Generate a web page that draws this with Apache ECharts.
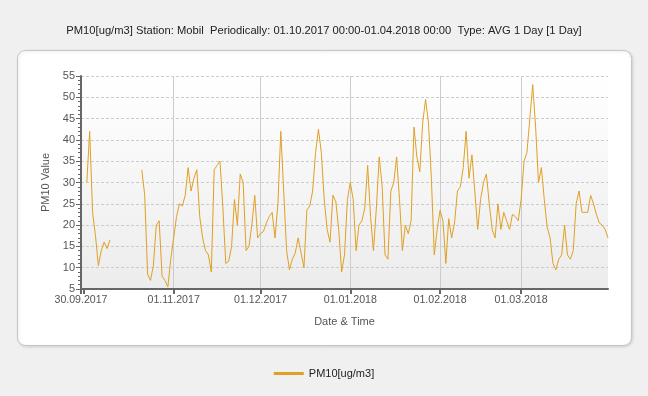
<!DOCTYPE html>
<html>
<head>
<meta charset="utf-8">
<script src="https://cdn.jsdelivr.net/npm/echarts@6/dist/echarts.min.js"></script>
<style>
html,body{margin:0;padding:0;background:#f0f0f0;}
#chart{width:648px;height:396px;}
</style>
</head>
<body>
<div id="chart"></div>
<script>
// Date range of the category axis (one category per day)
const startDate = [2017, 9, 30];   // 30.09.2017
const dayCount = 183;              // 30.09.2017 .. 31.03.2018

// Daily PM10 averages (index 0 = 30.09.2017), null = no data
const pm10Values = [
  null, null, 30, 42, 23, 17.5, 10.5, 14, 16, 14.5,
  16.5, null, null, null, null, null, null, null, null, null,
  null, 33, 27, 8.5, 7, 10.5, 20, 21, 8, 7,
  5.5, 12, 17, 22, 25, 24.5, 27, 33.5, 28, 31,
  33, 22, 17, 14, 13, 9, 33, 34, 35, 24,
  11, 11.5, 15, 26, 20, 32, 30, 14, 15, 20,
  27, 17, 18, 18.5, 20.5, 22, 23, 17, 25, 42,
  28, 14, 9.5, 12, 13.5, 17, 13.5, 10, 23.5, 24.5,
  28, 37, 42.5, 37, 26, 19, 16, 27, 25.5, 19,
  9, 13, 26, 30, 26, 14, 20, 21, 24, 34,
  22, 14, 24, 36, 29, 13, 12, 28, 30, 36,
  26, 14, 20, 18, 21, 43, 36, 32.5, 44, 49.5,
  44, 31, 13, 19, 23.5, 21, 11, 21.5, 17, 20.5,
  28, 29, 33.5, 42, 31, 36.5, 28, 19, 26, 30,
  32, 25, 19, 17, 25, 19, 23, 21, 19, 22.5,
  22, 21, 26, 35, 37, 45, 53, 43, 30, 33.5,
  26, 19.5, 17, 11, 9.5, 12, 13, 20, 13, 12,
  14, 25, 28, 23, 23, 23, 27, 25, 22.5, 20.5,
  20, 19, 17
];

const seriesName = 'PM10[ug/m3]';
const titleText = 'PM10[ug/m3] Station: Mobil  Periodically: 01.10.2017 00:00-01.04.2018 00:00  Type: AVG 1 Day [1 Day]';
const yTicks = {min: 5, max: 55, interval: 5};

function pad(n){ return (n < 10 ? '0' : '') + n; }
const categories = [];
for (let i = 0; i < dayCount; i++) {
  const d = new Date(startDate[0], startDate[1] - 1, startDate[2] + i);
  categories.push(pad(d.getDate()) + '.' + pad(d.getMonth() + 1) + '.' + d.getFullYear());
}
const isMonthStart = (v) => v.slice(0, 2) === '01';

const chart = echarts.init(document.getElementById('chart'), null, {renderer: 'canvas'});
const font = 'Arial, "Liberation Sans", sans-serif';

chart.setOption({
  backgroundColor: '#f0f0f0',
  animation: false,
  textStyle: {fontFamily: font},
  title: {
    text: titleText,
    left: 'center',
    top: 20,
    textStyle: {fontSize: 11.2, fontWeight: 'normal', color: '#222', fontFamily: font}
  },
  graphic: [{
    type: 'rect',
    z: -10,
    shape: {x: 17.5, y: 50.5, width: 614, height: 295, r: 8},
    style: {fill: '#ffffff', stroke: '#c6c6c6', lineWidth: 1,
      shadowColor: 'rgba(0,0,0,0.12)', shadowBlur: 3, shadowOffsetX: 1, shadowOffsetY: 1}
  }],
  legend: {
    data: [seriesName],
    left: 'center',
    top: 363,
    icon: 'rect',
    itemWidth: 30,
    itemHeight: 3,
    itemGap: 8,
    textStyle: {fontSize: 11, color: '#222', fontFamily: font}
  },
  grid: {
    left: 81, right: 40, top: 76, bottom: 107,
    show: true,
    borderWidth: 0,
    backgroundColor: new echarts.graphic.LinearGradient(0, 0, 0, 1, [
      {offset: 0, color: '#ffffff'},
      {offset: 1, color: '#ececec'}
    ])
  },
  xAxis: {
    type: 'category',
    data: categories,
    boundaryGap: false,
    name: 'Date & Time',
    nameLocation: 'middle',
    nameGap: 27,
    nameTextStyle: {fontSize: 11, color: '#555'},
    axisLine: {lineStyle: {color: '#666', width: 2}},
    axisTick: {
      show: true, length: 5, lineStyle: {color: '#666', width: 2},
      interval: (i, v) => i === 0 || isMonthStart(v)
    },
    axisLabel: {
      fontSize: 10.6, color: '#555', margin: 6, hideOverlap: false,
      interval: (i, v) => i === 0 || (i > 1 && isMonthStart(v))
    },
    splitLine: {
      show: true, lineStyle: {color: '#cccccc', width: 1},
      interval: (i, v) => i > 1 && isMonthStart(v)
    }
  },
  yAxis: {
    type: 'value',
    min: yTicks.min,
    max: yTicks.max,
    interval: yTicks.interval,
    name: 'PM10 Value',
    nameLocation: 'middle',
    nameGap: 23,
    nameTextStyle: {fontSize: 11, color: '#555'},
    axisLine: {show: true, lineStyle: {color: '#666', width: 2}},
    axisTick: {show: true, length: 5, lineStyle: {color: '#666', width: 1}},
    minorTick: {show: true, splitNumber: 5, length: 3, lineStyle: {color: '#666', width: 1}},
    axisLabel: {fontSize: 11, color: '#555', margin: 6},
    splitLine: {show: true, lineStyle: {color: '#cccccc', type: [3, 2], width: 1}}
  },
  series: [{
    name: seriesName,
    type: 'line',
    data: pm10Values,
    showSymbol: false,
    symbol: 'none',
    connectNulls: false,
    lineStyle: {color: '#e0a024', width: 1},
    itemStyle: {color: '#e0a024'}
  }]
});
</script>
</body>
</html>
